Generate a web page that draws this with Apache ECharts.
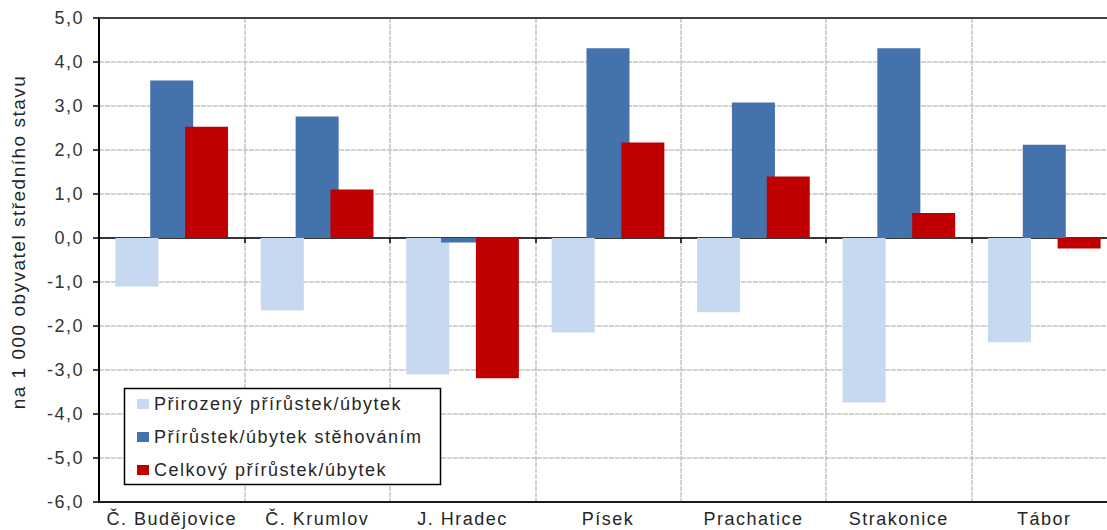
<!DOCTYPE html>
<html>
<head>
<meta charset="utf-8">
<script src="https://cdn.jsdelivr.net/npm/echarts@6/dist/echarts.min.js"></script>
<style>
  html, body { margin: 0; padding: 0; background: #fff; overflow: hidden; }
  #chart { width: 1127px; height: 530px; }
  #chart text { letter-spacing: 1.5px; }
</style>
</head>
<body>
<div id="chart"></div>
<script>
// ---- data ----
const categories = ['Č. Budějovice', 'Č. Krumlov', 'J. Hradec', 'Písek', 'Prachatice', 'Strakonice', 'Tábor'];
const seriesNames = ['Přirozený přírůstek/úbytek', 'Přírůstek/úbytek stěhováním', 'Celkový přírůstek/úbytek'];
const naturalChange = [-1.10, -1.65, -3.10, -2.15, -1.69, -3.74, -2.37];
const migrationChange = [3.58, 2.76, -0.10, 4.31, 3.08, 4.31, 2.12];
const totalChange = [2.53, 1.10, -3.19, 2.17, 1.40, 0.57, -0.24];
const yTitle = 'na 1 000 obyvatel středního stavu';
const yMin = -6, yMax = 5, yStep = 1;

// ---- styles ----
const FONT = 'Liberation Sans, Arial, sans-serif';
const colors = ['#C6D9F0', '#4472AC', '#C00000'];
const gridColor = '#C4C4C4';

const chart = echarts.init(document.getElementById('chart'), null, { renderer: 'svg' });

const barSeries = [naturalChange, migrationChange, totalChange].map((vals, i) => ({
  name: seriesNames[i],
  type: 'bar',
  xAxisIndex: 0,
  yAxisIndex: 0,
  data: vals,
  barWidth: 43,
  barGap: '-19%',
  itemStyle: { color: colors[i] },
  z: 2
}));

chart.setOption({
  animation: false,
  backgroundColor: '#fff',
  grid: { left: 99, right: 10, top: 18, bottom: 28, containLabel: false },
  xAxis: [
    {
      type: 'category',
      data: categories,
      position: 'bottom',
      axisLine: { show: true, onZero: true, lineStyle: { color: '#000', width: 1.5 } },
      axisTick: { show: true, inside: false, length: 5, interval: 0, lineStyle: { color: '#000', width: 1.5 } },
      axisLabel: { show: false },
      splitLine: { show: true, interval: 0, lineStyle: { color: gridColor, width: 1.5, type: [5, 1] } }
    },
    {
      type: 'category',
      data: categories,
      position: 'bottom',
      axisLine: { show: true, onZero: false, lineStyle: { color: '#1a1a1a', width: 2 } },
      axisTick: { show: false },
      axisLabel: { show: true, interval: 0, margin: 8, fontSize: 18, fontFamily: FONT, color: '#262626' },
      splitLine: { show: false }
    },
    {
      type: 'category',
      data: categories,
      position: 'top',
      axisLine: { show: true, onZero: false, lineStyle: { color: '#404040', width: 2 } },
      axisTick: { show: false },
      axisLabel: { show: false },
      splitLine: { show: false }
    }
  ],
  yAxis: {
    type: 'value',
    min: yMin,
    max: yMax,
    interval: yStep,
    axisLine: { show: true, onZero: false, lineStyle: { color: '#000', width: 2 } },
    axisTick: { show: true, inside: false, length: 6, lineStyle: { color: '#000', width: 1.5 } },
    axisLabel: {
      margin: 15,
      fontSize: 18,
      fontFamily: FONT,
      color: '#333',
      formatter: v => v.toFixed(1).replace('.', ',')
    },
    splitLine: { show: true, lineStyle: { color: gridColor, width: 1.5, type: [5, 1] } }
  },
  legend: {
    orient: 'vertical',
    left: 125,
    top: 389,
    padding: [5, 10, 5, 12],
    itemWidth: 12,
    itemHeight: 10,
    itemGap: 13,
    icon: 'rect',
    z: 10,
    textStyle: { fontSize: 18, fontFamily: FONT, color: '#262626', lineHeight: 20, padding: [0, 0, 0, 0] },
    data: seriesNames
  },
  graphic: [
    {
      type: 'rect',
      z: 8,
      shape: { x: 124.5, y: 388.5, width: 316, height: 96 },
      style: { fill: '#fff', stroke: '#000', lineWidth: 1.5 }
    },
    {
      type: 'text',
      x: 18,
      y: 242,
      rotation: Math.PI / 2,
      z: 10,
      style: {
        text: yTitle,
        font: '19px ' + FONT,
        fill: '#262626',
        textAlign: 'center',
        textVerticalAlign: 'middle'
      }
    }
  ],
  series: barSeries
});
</script>
</body>
</html>
